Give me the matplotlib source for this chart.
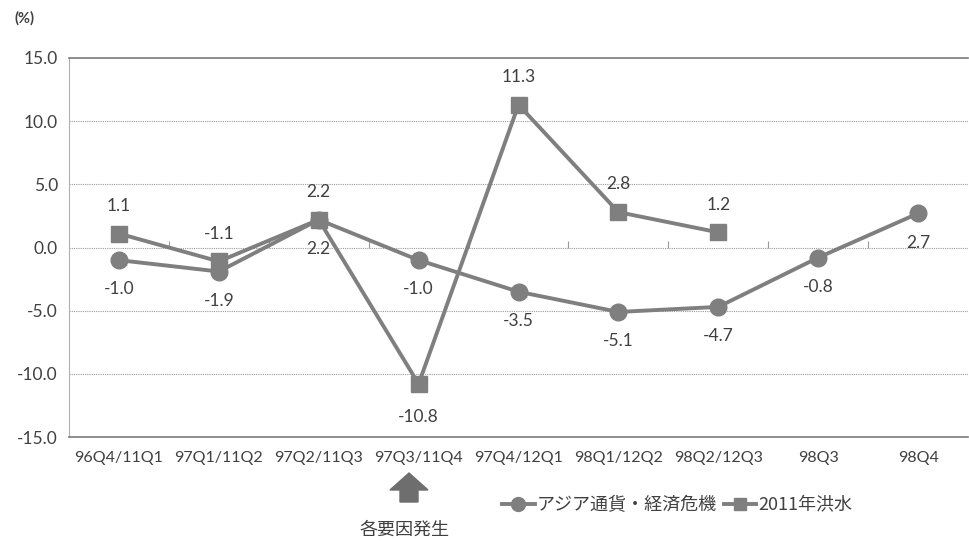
import matplotlib.pyplot as plt
from matplotlib.patches import Polygon
from matplotlib.lines import Line2D
import numpy as np

# quarter labels and growth rates (%)
quarters = ['96Q4/11Q1', '97Q1/11Q2', '97Q2/11Q3', '97Q3/11Q4', '97Q4/12Q1',
            '98Q1/12Q2', '98Q2/12Q3', '98Q3', '98Q4']
asia_crisis = [-1.0, -1.9, 2.2, -1.0, -3.5, -5.1, -4.7, -0.8, 2.7]
flood_2011 = [1.1, -1.1, 2.2, -10.8, 11.3, 2.8, 1.2]
yticks = [15.0, 10.0, 5.0, 0.0, -5.0, -10.0, -15.0]

series_color = '#7f7f7f'
text_color = '#404040'
num_font = ['Lato', 'DejaVu Sans']
jp_font = ['Noto Sans CJK JP', 'DejaVu Sans']

fig = plt.figure(figsize=(9.69, 5.41), dpi=100)
ax = fig.add_axes([0.0712, 0.1922, 0.9278, 0.7006])

x = np.arange(len(quarters))
ax.plot(x, asia_crisis, '-o', color=series_color, lw=2.8, ms=12, zorder=3)
ax.plot(x[:len(flood_2011)], flood_2011, '-s', color=series_color, lw=2.8, ms=11, zorder=3)

# value labels: crisis below the markers, flood above (except the dip)
for xi, v in zip(x, asia_crisis):
    ax.annotate('%.1f' % v, (xi, v), xytext=(0, -21), textcoords='offset points',
                ha='center', va='center', fontsize=12.5, color=text_color, family=num_font)
for xi, v in zip(x, flood_2011):
    dy = -24 if v < -5 else 20
    ax.annotate('%.1f' % v, (xi, v), xytext=(0, dy), textcoords='offset points',
                ha='center', va='center', fontsize=12.5, color=text_color, family=num_font)

ax.set_xlim(-0.5, len(quarters) - 0.5)
ax.set_ylim(-15, 15)
ax.set_yticks(yticks)
ax.set_yticklabels(['%.1f' % t for t in yticks], family=num_font, fontsize=12.5, color=text_color)
ax.set_xticks(x)
ax.set_xticklabels(quarters, family=num_font, fontsize=11.5, color=text_color)
ax.tick_params(axis='both', length=0)
ax.tick_params(axis='x', pad=10)
ax.tick_params(axis='y', pad=8)

# dotted grid, solid frame top and bottom
for t in yticks[1:-1]:
    ax.axhline(t, color='#9a9a9a', lw=0.8, ls=(0, (1, 1)), zorder=1)
ax.spines['right'].set_visible(False)
ax.spines['top'].set_color('#7a7a7a')
ax.spines['bottom'].set_color('#7a7a7a')
ax.spines['top'].set_linewidth(1.2)
ax.spines['bottom'].set_linewidth(1.2)
ax.spines['left'].set_color('#b0b0b0')
ax.spines['left'].set_linestyle((0, (1, 1)))

# category tick marks on the zero line
zero_axis = ax.secondary_xaxis(0.5)
zero_axis.set_xticks(x[1:] - 0.5)
zero_axis.set_xticklabels([])
zero_axis.tick_params(length=5, color='#9a9a9a', width=0.8)
for sp in zero_axis.spines.values():
    sp.set_visible(False)

fig.text(0.015, 0.967, '(%)', fontsize=10.5, color=text_color, family=num_font,
         fontweight='bold', va='center')

# event arrow under 97Q3/11Q4
W, H = 969, 541
arrow_px = [(400, 502), (400, 490), (390, 490), (409, 473), (428, 490), (418, 490), (418, 502)]
fig.patches.append(Polygon([(px / W, 1 - py / H) for px, py in arrow_px], closed=True,
                           transform=fig.transFigure, facecolor='#6e6e6e', edgecolor='#6e6e6e'))
fig.text(405 / W, 1 - 530 / H, '各要因発生', fontsize=13, color=text_color, family=jp_font,
         ha='center', va='center')

handles = [Line2D([], [], color=series_color, lw=2.8, marker='o', ms=10),
           Line2D([], [], color=series_color, lw=2.8, marker='s', ms=9)]
fig.legend(handles, ['アジア通貨・経済危機', '2011年洪水'], ncol=2, frameon=False,
           loc='center', bbox_to_anchor=(677 / W, 1 - 505 / H), handlelength=1.8,
           handletextpad=0.1, columnspacing=0.4,
           prop={'family': jp_font, 'size': 13})
for t in fig.legends[0].get_texts():
    t.set_color(text_color)

plt.savefig('out.png', dpi=100)
